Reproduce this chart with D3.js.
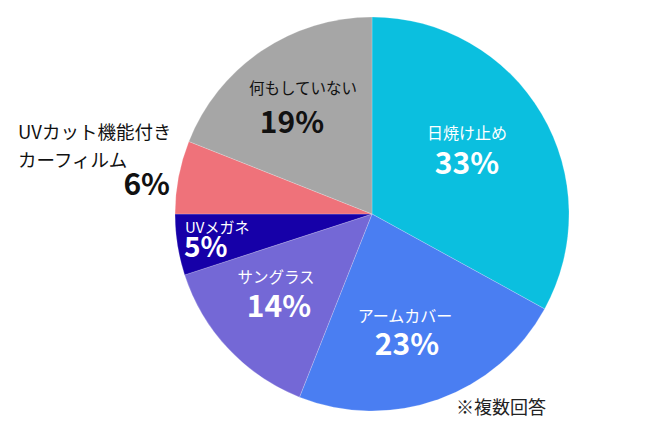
<!DOCTYPE html>
<html>
<head>
<meta charset="utf-8">
<script src="https://cdn.jsdelivr.net/npm/d3@7"></script>
<style>
  html, body { margin: 0; padding: 0; background: #fff; }
  svg { display: block; font-family: "Noto Sans CJK JP", "Noto Sans", sans-serif; }
</style>
</head>
<body>
<div id="chart"></div>
<script>
// Slices, clockwise from 12 o'clock.
const categories = ['日焼け止め', 'アームカバー', 'サングラス', 'UVメガネ', 'UVカット機能付きカーフィルム', '何もしていない'];
const values = [33, 23, 14, 5, 6, 19];
const colors = ['#0bbfdf', '#4a7ef2', '#7468d6', '#1600a8', '#ef727a', '#a6a6a6'];
const note = '※複数回答';

const width = 658, height = 445;
const cx = 372, cy = 214, radius = 197;

const svg = d3.select('#chart').append('svg')
  .attr('width', width)
  .attr('height', height);

const data = categories.map((c, i) => ({ name: c, value: values[i], color: colors[i] }));

const pie = d3.pie().sort(null).value(d => d.value);
const arc = d3.arc().innerRadius(0).outerRadius(radius);
const arcs = pie(data);

const g = svg.append('g').attr('transform', `translate(${cx},${cy})`);

g.selectAll('path')
  .data(arcs)
  .join('path')
  .attr('d', arc)
  .attr('fill', d => d.data.color)
  .attr('stroke', 'rgba(255,255,255,0.35)')
  .attr('stroke-width', 0.6);

// Label placement per slice: [name lines], name x/y, pct x/y, anchor, text colour.
const labelPos = [
  { lines: ['日焼け止め'], nx: 95, ny: -75, px: 95, py: -40, anchor: 'middle', fill: '#fff', nameSize: 16 },
  { lines: ['アームカバー'], nx: 33, ny: 108, px: 35, py: 141, anchor: 'middle', fill: '#fff', nameSize: 16 },
  { lines: ['サングラス'], nx: -96, ny: 69, px: -93, py: 103, anchor: 'middle', fill: '#fff', nameSize: 15.5 },
  { lines: ['UVメガネ'], nx: -187, ny: 19, px: -188, py: 43, anchor: 'start', fill: '#fff', nameSize: 15, pctSize: 28 },
  { lines: ['UVカット機能付き', 'カーフィルム'], nx: -354, ny: -75, px: -202, py: -19, anchor: 'start', pAnchor: 'end', fill: '#111', nameSize: 18.5, lineGap: 28 },
  { lines: ['何もしていない'], nx: -69, ny: -120, px: -80, py: -81, anchor: 'middle', fill: '#111', nameSize: 15.5 }
];

const labels = g.selectAll('g.label')
  .data(arcs)
  .join('g')
  .attr('class', 'label');

labels.each(function(d, i) {
  const p = labelPos[i];
  const sel = d3.select(this);
  p.lines.forEach((line, k) => {
    sel.append('text')
      .attr('x', p.nx)
      .attr('y', p.ny + k * (p.lineGap || 0))
      .attr('text-anchor', p.anchor)
      .attr('fill', p.fill)
      .attr('font-size', p.nameSize)
      .text(line);
  });
  sel.append('text')
    .attr('x', p.px)
    .attr('y', p.py)
    .attr('text-anchor', p.pAnchor || p.anchor)
    .attr('fill', p.fill)
    .attr('font-size', p.pctSize || 30)
    .attr('font-weight', 'bold')
    .text(d.data.value + '%');
});

svg.append('text')
  .attr('x', 456)
  .attr('y', 414)
  .attr('font-size', 18)
  .attr('fill', '#222')
  .text(note);
</script>
</body>
</html>
